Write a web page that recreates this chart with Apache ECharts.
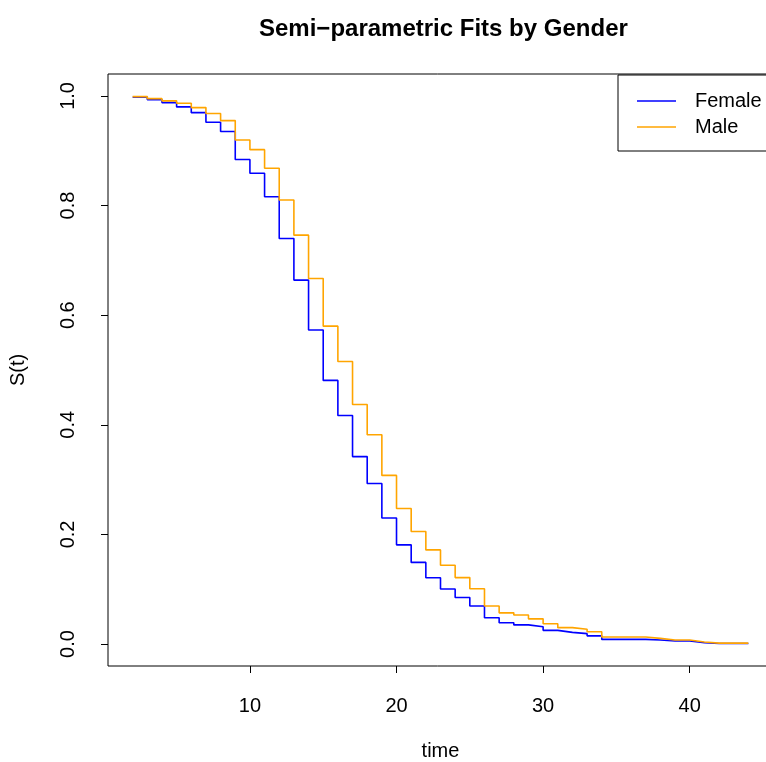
<!DOCTYPE html>
<html>
<head>
<meta charset="utf-8">
<script src="https://cdn.jsdelivr.net/npm/echarts@6/dist/echarts.min.js"></script>
<style>html,body{margin:0;padding:0;background:#fff;}#c{width:766px;height:762px;}</style>
</head>
<body>
<div id="c"></div>
<script>
const times = [2,3,4,5,6,7,8,9,10,11,12,13,14,15,16,17,18,19,20,21,22,23,24,25,26,27,28,29,30,31,32,33,34,35,36,37,38,39,40,41,42,43,44];
const female = [0.9976,0.9933,0.9878,0.980,0.9695,0.952,0.935,0.884,0.859,0.816,0.740,0.664,0.573,0.481,0.417,0.342,0.293,0.230,0.181,0.149,0.121,0.1005,0.085,0.0695,0.048,0.039,0.035,0.0317,0.025,0.0214,0.019,0.015,0.0085,0.0085,0.0085,0.0073,0.0055,0.0055,0.0024,0.001,0.001,0.001,0.001];
const male = [0.9988,0.995,0.991,0.9866,0.9787,0.968,0.955,0.9196,0.902,0.868,0.810,0.746,0.667,0.580,0.5155,0.437,0.382,0.3077,0.2474,0.2053,0.1718,0.1438,0.1213,0.101,0.0695,0.057,0.053,0.046,0.037,0.030,0.027,0.0225,0.0128,0.0128,0.0128,0.0104,0.0073,0.0073,0.0037,0.0018,0.0018,0.0018,0.0018];
const xTicks = [10,20,30,40];
const yTicks = [0,0.2,0.4,0.6,0.8,1.0];
const seriesNames = ['Female','Male'];

const font = 'Liberation Sans, Arial, Helvetica, sans-serif';
const chart = echarts.init(document.getElementById('c'), null, {renderer:'canvas'});
chart.setOption({
  animation:false,
  backgroundColor:'#fff',
  title:{
    text:'Semi\u2212parametric Fits by Gender',
    left:254, top:12,
    textStyle:{fontFamily:font, fontSize:24, fontWeight:'bold', color:'#000'}
  },
  legend:{
    data:seriesNames,
    orient:'vertical',
    left:618, top:75,
    icon:'rect', itemWidth:39, itemHeight:1.5, itemGap:6,
    padding:[16,40,14,19],
    borderColor:'#000', borderWidth:1,
    textStyle:{fontFamily:font, fontSize:20, color:'#000', lineHeight:20, padding:[0,0,0,14]}
  },
  grid:{left:108, top:74, width:665, height:592, show:true, borderColor:'#000', borderWidth:1,
        backgroundColor:'transparent', outerBoundsMode:'none', containLabel:false},
  xAxis:{
    type:'value', min:0.32, max:45.68,
    name:'time', nameLocation:'middle', nameGap:75,
    nameTextStyle:{fontFamily:font, fontSize:20, color:'#000'},
    axisLine:{show:false, onZero:false},
    axisTick:{show:true, inside:false, length:7, lineStyle:{color:'#000', width:1}, customValues:xTicks},
    axisLabel:{show:true, margin:30, fontFamily:font, fontSize:20, color:'#000', customValues:xTicks},
    splitLine:{show:false}
  },
  yAxis:{
    type:'value', min:-0.04, max:1.04,
    name:'S(t)', nameLocation:'middle', nameGap:80, nameRotate:90,
    nameTextStyle:{fontFamily:font, fontSize:20, color:'#000'},
    axisLine:{show:false, onZero:false},
    axisTick:{show:true, inside:false, length:7, lineStyle:{color:'#000', width:1}, customValues:yTicks},
    axisLabel:{show:true, margin:30, rotate:90, fontFamily:font, fontSize:20, color:'#000', customValues:yTicks,
      formatter:function(v){return v.toFixed(1);}},
    splitLine:{show:false}
  },
  series:[
    {name:seriesNames[0], type:'line', step:'end', showSymbol:false, symbol:'none',
     data:times.map((t,i)=>[t,female[i]]), lineStyle:{color:'#0000FF', width:1.6}, itemStyle:{color:'#0000FF'}},
    {name:seriesNames[1], type:'line', step:'end', showSymbol:false, symbol:'none',
     data:times.map((t,i)=>[t,male[i]]), lineStyle:{color:'#FFA500', width:1.6}, itemStyle:{color:'#FFA500'}}
  ]
});
</script>
</body>
</html>
